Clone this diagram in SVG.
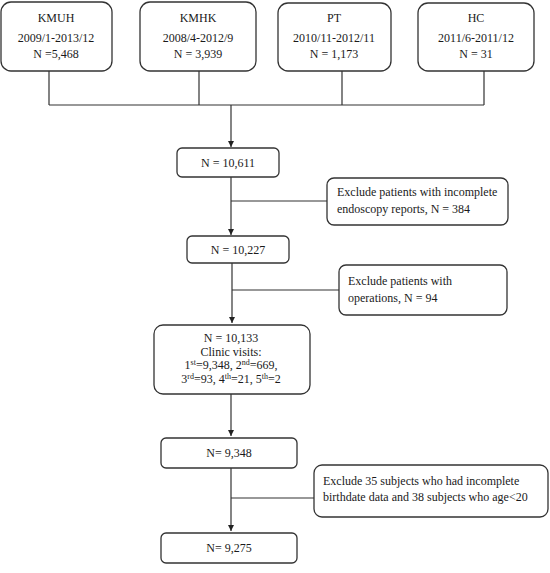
<svg xmlns="http://www.w3.org/2000/svg" width="550" height="573" viewBox="0 0 550 573">
<style>
.b{fill:#fff;stroke:#333;stroke-width:1.3}
.t{font-family:"Liberation Serif","Times New Roman",serif;font-size:12px;fill:#1a1a1a}
.c{text-anchor:middle}
.s{font-size:8px}
.l{fill:none;stroke:#333;stroke-width:1.2}
</style>
<defs>
<marker id="ah" viewBox="0 0 10 10" refX="10" refY="5" markerWidth="6" markerHeight="6" markerUnits="userSpaceOnUse" orient="auto">
<path d="M0,0 L10,5 L0,10 z" fill="#222"/>
</marker>
</defs>
<rect width="550" height="573" fill="#fff"/>
<g id="connectors">
<path class="l" d="M49,71 V105 M199,71 V105 M342,71 V105 M484,71 V105 M49,105 H484"/>
<path class="l" d="M231,105 V147" marker-end="url(#ah)"/>
<path class="l" d="M231,177 V235" marker-end="url(#ah)"/>
<path class="l" d="M231,201 H327"/>
<path class="l" d="M232,263 V323" marker-end="url(#ah)"/>
<path class="l" d="M232,290 H339"/>
<path class="l" d="M231,394 V436" marker-end="url(#ah)"/>
<path class="l" d="M231,468 V531" marker-end="url(#ah)"/>
<path class="l" d="M231,498 H314"/>
</g>
<g id="kmuh">
<rect class="b" x="1" y="2" width="111" height="69" rx="10"/>
<text class="t c" x="56" y="22">KMUH</text>
<text class="t c" x="56" y="42">2009/1-2013/12</text>
<text class="t c" x="56" y="58">N =5,468</text>
</g>
<g id="kmhk">
<rect class="b" x="140" y="2" width="116" height="69" rx="10"/>
<text class="t c" x="198" y="22">KMHK</text>
<text class="t c" x="198" y="42">2008/4-2012/9</text>
<text class="t c" x="198" y="58">N = 3,939</text>
</g>
<g id="pt">
<rect class="b" x="278" y="3" width="113" height="68" rx="10"/>
<text class="t c" x="334" y="22">PT</text>
<text class="t c" x="334" y="42">2010/11-2012/11</text>
<text class="t c" x="334" y="58">N = 1,173</text>
</g>
<g id="hc">
<rect class="b" x="418" y="3" width="116" height="68" rx="10"/>
<text class="t c" x="476" y="22">HC</text>
<text class="t c" x="476" y="42">2011/6-2011/12</text>
<text class="t c" x="476" y="58">N = 31</text>
</g>
<g id="n10611">
<rect class="b" x="177" y="148" width="102" height="29" rx="5"/>
<text class="t c" x="228" y="167">N = 10,611</text>
</g>
<g id="ex1">
<rect class="b" x="327" y="178" width="181" height="47" rx="7"/>
<text class="t" x="337" y="196">Exclude patients with incomplete</text>
<text class="t" x="337" y="213">endoscopy reports, N = 384</text>
</g>
<g id="n10227">
<rect class="b" x="187" y="236" width="102" height="27" rx="5"/>
<text class="t c" x="238" y="254">N = 10,227</text>
</g>
<g id="ex2">
<rect class="b" x="339" y="265" width="168" height="50" rx="7"/>
<text class="t" x="348" y="285">Exclude patients with</text>
<text class="t" x="348" y="302">operations, N = 94</text>
</g>
<g id="n10133">
<rect class="b" x="154" y="325" width="156" height="69" rx="9"/>
<text class="t c" x="231" y="342">N = 10,133</text>
<text class="t c" x="231" y="356">Clinic visits:</text>
<text class="t c" x="231" y="369">1<tspan class="s" dy="-4">st</tspan><tspan dy="4">=9,348, 2</tspan><tspan class="s" dy="-4">nd</tspan><tspan dy="4">=669,</tspan></text>
<text class="t c" x="231" y="383">3<tspan class="s" dy="-4">rd</tspan><tspan dy="4">=93, 4</tspan><tspan class="s" dy="-4">th</tspan><tspan dy="4">=21, 5</tspan><tspan class="s" dy="-4">th</tspan><tspan dy="4">=2</tspan></text>
</g>
<g id="n9348">
<rect class="b" x="161" y="438" width="136" height="30" rx="5"/>
<text class="t c" x="229" y="457">N= 9,348</text>
</g>
<g id="ex3">
<rect class="b" x="314" y="465" width="234" height="52" rx="8"/>
<text class="t" x="323" y="485">Exclude 35 subjects who had incomplete</text>
<text class="t" x="323" y="501">birthdate data and 38 subjects who age&lt;20</text>
</g>
<g id="n9275">
<rect class="b" x="161" y="533" width="136" height="30" rx="5"/>
<text class="t c" x="229" y="552">N= 9,275</text>
</g>
</svg>
